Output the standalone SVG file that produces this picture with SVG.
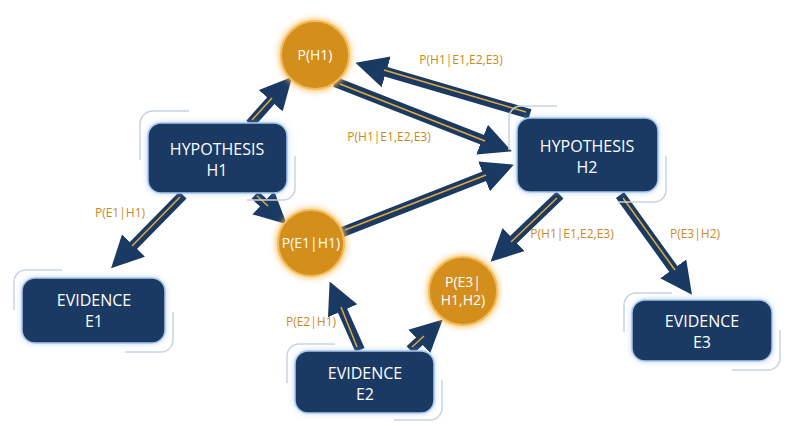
<svg xmlns="http://www.w3.org/2000/svg" width="800" height="447" viewBox="0 0 800 447">
<defs>
<style>
.box{fill:#1b3a63;stroke:#a9c6ea;stroke-width:1.5}
.brk{fill:none;stroke:#c9d3df;stroke-width:1.5}
.circ{fill:#d38e1c;stroke:#f3bc5a;stroke-width:2}
.t{font-family:"Open Sans","Liberation Sans",sans-serif;fill:#fff;font-size:16px;text-anchor:middle}
.ct{font-family:"Open Sans","Liberation Sans",sans-serif;fill:#fff;font-size:14px;text-anchor:middle}
.lb{font-family:"Open Sans","Liberation Sans",sans-serif;fill:#c98a1e;font-size:12px;text-anchor:middle}
.ar{stroke:#1b3a63;stroke-width:10;marker-end:url(#h)}
.gl{stroke:#e0a93a;stroke-width:1.5}
</style>
<marker id="h" viewBox="0 0 10 10" refX="2" refY="5" markerWidth="3.2" markerHeight="3.4" orient="auto" markerUnits="strokeWidth"><path d="M0,0L10,5L0,10z" fill="#1b3a63"/></marker>
<filter id="g" x="-30%" y="-30%" width="160%" height="160%"><feGaussianBlur stdDeviation="3"/></filter>
</defs>
<rect width="800" height="447" fill="#fff"/>
<g id="connectors">
<line class="ar" x1="250" y1="124" x2="275" y2="96"/><line class="gl" x1="252" y1="120" x2="272" y2="98"/>
<line class="ar" x1="335" y1="82" x2="488" y2="142"/><line class="gl" x1="340" y1="84" x2="485" y2="141"/>
<line class="ar" x1="530" y1="114" x2="380" y2="70"/><line class="gl" x1="526" y1="112" x2="384" y2="70"/>
<line class="ar" x1="183" y1="195" x2="129" y2="250"/><line class="gl" x1="180" y1="197" x2="132" y2="246"/>
<line class="ar" x1="255" y1="195" x2="268" y2="207"/><line class="gl" x1="257" y1="196" x2="268" y2="206"/>
<line class="ar" x1="340" y1="233" x2="490" y2="174"/><line class="gl" x1="345" y1="230" x2="486" y2="175"/>
<line class="ar" x1="560" y1="195" x2="509" y2="244"/><line class="gl" x1="557" y1="198" x2="511" y2="242"/>
<line class="ar" x1="620" y1="195" x2="677" y2="274"/><line class="gl" x1="623" y1="198" x2="675" y2="270"/>
<line class="ar" x1="360" y1="350" x2="340" y2="305"/><line class="gl" x1="357" y1="347" x2="341" y2="307"/>
<line class="ar" x1="410" y1="350" x2="424" y2="337"/><line class="gl" x1="412" y1="347" x2="424" y2="336"/>
<text class="lb" x="461" y="64">P(H1|E1,E2,E3)</text>
<text class="lb" x="389" y="141">P(H1|E1,E2,E3)</text>
<text class="lb" x="120" y="217">P(E1|H1)</text>
<text class="lb" x="572" y="238">P(H1|E1,E2,E3)</text>
<text class="lb" x="695" y="238">P(E3|H2)</text>
<text class="lb" x="311" y="326">P(E2|H1)</text>
</g>
<g id="h1">
<path class="brk" d="M140,160V124a13,13 0 0 1 13,-13h36M295,156V188a12,12 0 0 1 -12,12h-36"/>
<rect x="148" y="123" width="139" height="70" rx="13" fill="#7fb0e8" filter="url(#g)" opacity="0.6"/>
<rect class="box" x="148" y="123" width="139" height="70" rx="13"/>
<text class="t" x="217" y="155">HYPOTHESIS</text><text class="t" x="217" y="176">H1</text>
</g>
<g id="h2">
<path class="brk" d="M509,150V118a12,12 0 0 1 12,-12h36M666,156V190a12,12 0 0 1 -12,12h-36"/>
<rect x="517" y="118" width="141" height="74" rx="13" fill="#7fb0e8" filter="url(#g)" opacity="0.6"/>
<rect class="box" x="517" y="118" width="141" height="74" rx="13"/>
<text class="t" x="587" y="152">HYPOTHESIS</text><text class="t" x="587" y="173">H2</text>
</g>
<g id="e1">
<path class="brk" d="M14,310V282a12,12 0 0 1 12,-12h36M173,312V340a12,12 0 0 1 -12,12h-36"/>
<rect x="22" y="278" width="143" height="65" rx="13" fill="#7fb0e8" filter="url(#g)" opacity="0.6"/>
<rect class="box" x="22" y="278" width="143" height="65" rx="13"/>
<text class="t" x="94" y="306">EVIDENCE</text><text class="t" x="94" y="327">E1</text>
</g>
<g id="e2">
<path class="brk" d="M287,383V356a12,12 0 0 1 12,-12h36M442,380V408a12,12 0 0 1 -12,12h-36"/>
<rect x="295" y="351" width="139" height="62" rx="13" fill="#7fb0e8" filter="url(#g)" opacity="0.6"/>
<rect class="box" x="295" y="351" width="139" height="62" rx="13"/>
<text class="t" x="365" y="379">EVIDENCE</text><text class="t" x="365" y="400">E2</text>
</g>
<g id="e3">
<path class="brk" d="M624,332V305a12,12 0 0 1 12,-12h36M780,330V358a12,12 0 0 1 -12,12h-36"/>
<rect x="632" y="300" width="140" height="61" rx="13" fill="#7fb0e8" filter="url(#g)" opacity="0.6"/>
<rect class="box" x="632" y="300" width="140" height="61" rx="13"/>
<text class="t" x="702" y="327">EVIDENCE</text><text class="t" x="702" y="348">E3</text>
</g>
<g id="ph1">
<circle cx="315" cy="55" r="36" fill="#f5c060" filter="url(#g)"/>
<circle class="circ" cx="315" cy="55" r="34"/>
<text class="ct" x="315" y="60">P(H1)</text>
</g>
<g id="pe1">
<circle cx="311" cy="243" r="35" fill="#f5c060" filter="url(#g)"/>
<circle class="circ" cx="311" cy="243" r="33"/>
<text class="ct" x="311" y="248">P(E1|H1)</text>
</g>
<g id="pe3">
<circle cx="463" cy="291" r="36" fill="#f5c060" filter="url(#g)"/>
<circle class="circ" cx="463" cy="291" r="34"/>
<text class="ct" x="463" y="287">P(E3|</text><text class="ct" x="463" y="305">H1,H2)</text>
</g>
</svg>
